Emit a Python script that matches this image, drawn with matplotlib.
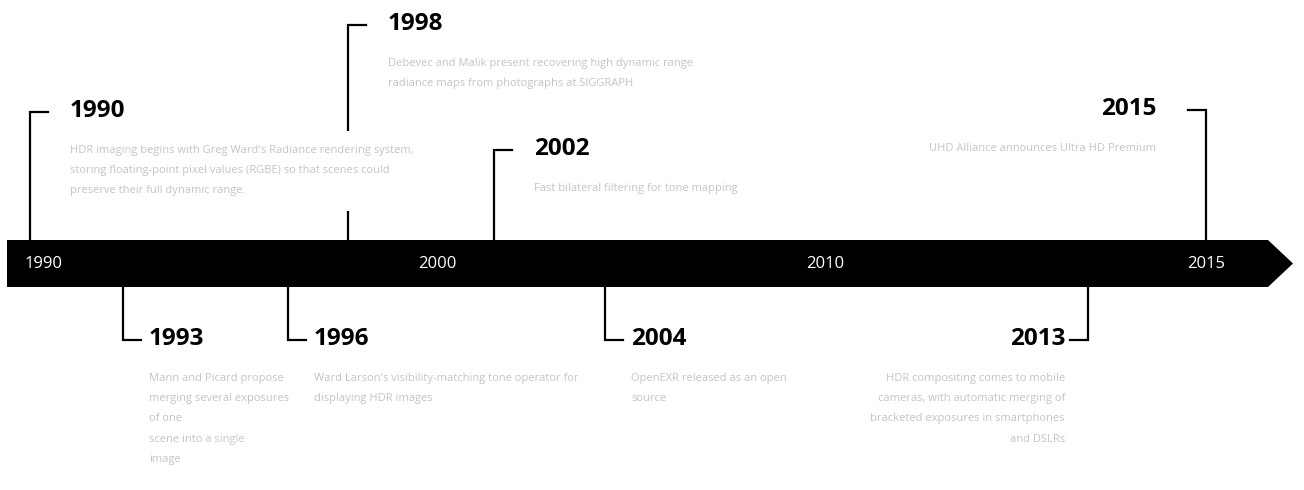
import numpy as np
import matplotlib.pyplot as plt
from matplotlib.patches import Polygon
from matplotlib.transforms import blended_transform_factory

# eventos da linha do tempo
YEARS = [1990, 1993, 1996, 1998, 2002, 2004, 2013, 2015]
DESCS = [
    "HDR imaging begins with Greg Ward's Radiance rendering system,\n"
    "storing floating-point pixel values (RGBE) so that scenes could\n"
    "preserve their full dynamic range.",
    "Mann and Picard propose\nmerging several exposures\nof one\nscene into a single\nimage",
    "Ward Larson's visibility-matching tone operator for\n"
    "displaying HDR images",
    "Debevec and Malik present recovering high dynamic range\n"
    "radiance maps from photographs at SIGGRAPH",
    "Fast bilateral filtering for tone mapping",
    "OpenEXR released as an open\nsource",
    "HDR compositing comes to mobile\ncameras, with automatic merging of\n"
    "bracketed exposures in smartphones\nand DSLRs",
    "UHD Alliance announces Ultra HD Premium",
]
BAR_TICKS = [1990, 2000, 2010, 2015]

# layout (pixels da figura, y de cima para baixo)
W, H = 1304, 490
SCALE_YR = [1989.4, 1990, 1993, 1996, 1998, 2000, 2002, 2004, 2010, 2013, 2015, 2017]
SCALE_PX = [0, 30, 123, 288, 348, 437, 494, 605, 825, 1088, 1206, 1304]
LEVEL = {1990: 112, 1993: 340, 1996: 340, 1998: 25, 2002: 150, 2004: 340, 2013: 340, 2015: 110}
RIGHT = {2013, 2015}          # texto à esquerda da haste
BAR_TOP, BAR_BOT = 240, 287
INK, GREY = "#000000", "#c4c4c4"

plt.rcParams["font.family"] = ["Open Sans", "DejaVu Sans"]


def fwd(x):
    return np.interp(x, SCALE_YR, SCALE_PX)


def inv(p):
    return np.interp(p, SCALE_PX, SCALE_YR)


fig = plt.figure(figsize=(W / 100, H / 100), dpi=100)
ax = fig.add_axes([0, 0, 1, 1])
ax.set_xscale("function", functions=(fwd, inv))
ax.set_xlim(SCALE_YR[0], SCALE_YR[-1])
ax.set_ylim(H, 0)
ax.axis("off")

# barra com seta (x em fração dos eixos)
mid = (BAR_TOP + BAR_BOT) / 2
bar = Polygon([(7 / W, BAR_TOP), (1268 / W, BAR_TOP), (1293 / W, mid),
               (1268 / W, BAR_BOT), (7 / W, BAR_BOT)], closed=True,
              facecolor=INK, edgecolor="none", zorder=3,
              transform=blended_transform_factory(ax.transAxes, ax.transData))
ax.add_patch(bar)

for yr in BAR_TICKS:
    first = yr == BAR_TICKS[0]
    ax.annotate(str(yr), (yr, mid), xytext=(-5 if first else 0, 0),
                textcoords="offset pixels", ha="left" if first else "center",
                va="center", color="white", fontsize=12, zorder=4)

for yr, desc in zip(YEARS, DESCS):
    lev = LEVEL[yr]
    above = lev < BAR_TOP
    side = -1 if yr in RIGHT else 1
    x_hook = inv(fwd(yr) + side * 18)
    y0 = BAR_TOP if above else BAR_BOT
    ax.plot([yr, yr, x_hook], [y0, lev, lev], color=INK, lw=1.6,
            solid_joinstyle="miter", zorder=1)
    dx = (40 if above else 26) if side > 0 else (-50 if above else -23)
    ha = "left" if side > 0 else "right"
    ax.annotate(str(yr), (yr, lev), xytext=(dx, 1), textcoords="offset pixels",
                ha=ha, va="center", fontsize=17.5, fontweight="bold", color=INK, zorder=4)
    box = dict(boxstyle="square,pad=1.3", fc="white", ec="none") if yr == 1990 else None
    ax.annotate(desc, (yr, lev), xytext=(dx, -33), textcoords="offset pixels",
                ha=ha, va="top", fontsize=8, color=GREY, linespacing=2.15,
                multialignment=ha, bbox=box, zorder=2)

fig.savefig("out.png", dpi=100, facecolor="white")
